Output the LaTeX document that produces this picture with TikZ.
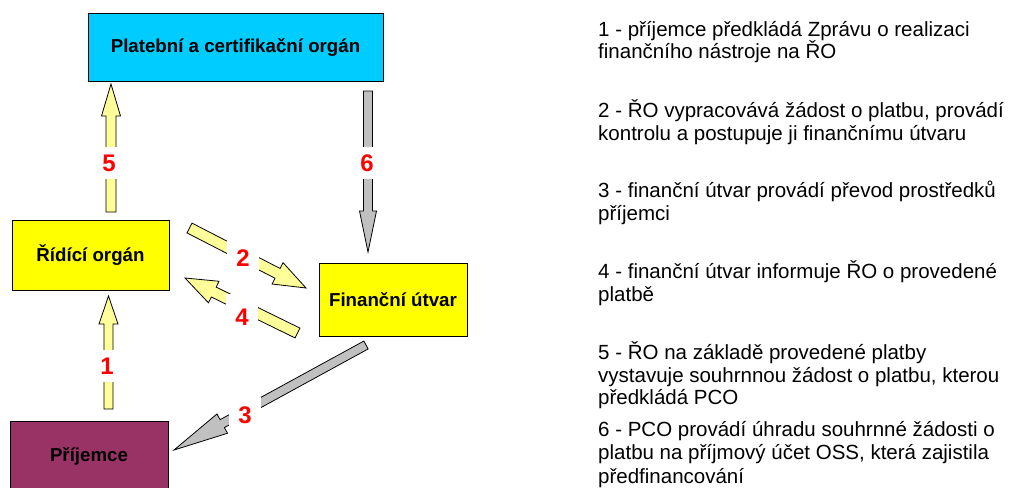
\documentclass[tikz,border=0pt]{standalone}
\usepackage{fontspec}
\setmainfont{Liberation Sans}
\usetikzlibrary{calc}
\definecolor{pcoblue}{HTML}{00CCFF}
\definecolor{boxyellow}{HTML}{FFFF00}
\definecolor{plumbox}{HTML}{993366}
\definecolor{arrowyellow}{HTML}{FFFF99}
\definecolor{arrowgray}{HTML}{C0C0C0}
\definecolor{numred}{HTML}{FF0000}
% block arrow: from, to, shaft half width, head half width, head length, fill
\newcommand{\blockarr}[6]{%
  \coordinate (ba-h) at ($(#2)!#5!(#1)$);
  \draw[fill=#6, line width=0.8pt, line join=miter]
    ($(#1)!#3!90:(#2)$) -- ($(ba-h)!#3!-90:(#1)$) -- ($(ba-h)!#4!-90:(#1)$) -- (#2)
    -- ($(ba-h)!#4!90:(#1)$) -- ($(ba-h)!#3!90:(#1)$) -- ($(#1)!#3!-90:(#2)$) -- cycle;
}
\begin{document}
\begin{tikzpicture}[x=1pt,y=-1pt,
  box/.style={draw=black, line width=1pt, inner sep=0pt,
    font=\fontsize{18.7}{22}\selectfont\bfseries},
  num/.style={fill=white, text=numred, inner sep=0pt, minimum width=32pt,
    minimum height=32pt, font=\fontsize{24}{28}\selectfont\bfseries},
  leg/.style={anchor=base west, inner sep=0pt, font=\fontsize{20.5}{22.5}\selectfont}
]
\useasboundingbox (0,0) rectangle (1011,487);

% boxes
\node[box, fill=pcoblue, minimum width=295pt, minimum height=67pt] (pco) at (235.5,47.5) {Platební a certifikační orgán};
\node[box, fill=boxyellow, minimum width=157pt, minimum height=70pt] (ro) at (90.5,255) {Řídící orgán};
\node[box, fill=boxyellow, minimum width=148pt, minimum height=73pt] (fu) at (393,299.5) {Finanční útvar};
\node[box, fill=plumbox, minimum width=158pt, minimum height=70pt] (pr) at (89,456) {Příjemce};

% arrow end points
\coordinate (a5s) at (111,212);   \coordinate (a5e) at (111,84);
\coordinate (a6s) at (368,91);    \coordinate (a6e) at (368,252);
\coordinate (a1s) at (108.5,409); \coordinate (a1e) at (108.5,296);
\coordinate (a2s) at (189.5,228); \coordinate (a2e) at (306,288);
\coordinate (a4s) at (297.5,333); \coordinate (a4e) at (185,278);
\coordinate (a3s) at (366,345);   \coordinate (a3e) at (174,450);

\blockarr{a5s}{a5e}{5pt}{9.5pt}{32pt}{arrowyellow}
\blockarr{a6s}{a6e}{4.5pt}{8.5pt}{41pt}{arrowgray}
\blockarr{a1s}{a1e}{4.5pt}{9.5pt}{28pt}{arrowyellow}
\blockarr{a2s}{a2e}{5.5pt}{12pt}{32pt}{arrowyellow}
\blockarr{a4s}{a4e}{5.5pt}{12pt}{32pt}{arrowyellow}
\blockarr{a3s}{a3e}{4.5pt}{11pt}{55pt}{arrowgray}

% number labels
\node[num] (n5) at (109,163) {5};
\node[num] (n6) at (367,163) {6};
\node[num, minimum height=40pt] (n2) at (243,258) {2};
\node[num, minimum height=46pt] (n4) at (242,317) {4};
\node[num] (n1) at (107,366) {1};
\node[num, minimum height=40pt] (n3) at (245,415) {3};

% legend
\node[leg] (l1a) at (598,36.5) {1 - příjemce předkládá Zprávu o realizaci};
\node[leg] (l1b) at (598,59) {finančního nástroje na ŘO};
\node[leg] (l2a) at (598,117.5) {2 - ŘO vypracovává žádost o platbu, provádí};
\node[leg] (l2b) at (598,140) {kontrolu a postupuje ji finančnímu útvaru};
\node[leg] (l3a) at (598,197.5) {3 - finanční útvar provádí převod prostředků};
\node[leg] (l3b) at (598,220) {příjemci};
\node[leg] (l4a) at (598,278.5) {4 - finanční útvar informuje ŘO o provedené};
\node[leg] (l4b) at (598,301) {platbě};
\node[leg] (l5a) at (598,359.5) {5 - ŘO na základě provedené platby};
\node[leg] (l5b) at (598,382) {vystavuje souhrnnou žádost o platbu, kterou};
\node[leg] (l5c) at (598,404.5) {předkládá PCO};
\node[leg] (l6a) at (598,436) {6 - PCO provádí úhradu souhrnné žádosti o};
\node[leg] (l6b) at (598,459.5) {platbu na příjmový účet OSS, která zajistila};
\node[leg] (l6c) at (598,483) {předfinancování};
\end{tikzpicture}
\end{document}
